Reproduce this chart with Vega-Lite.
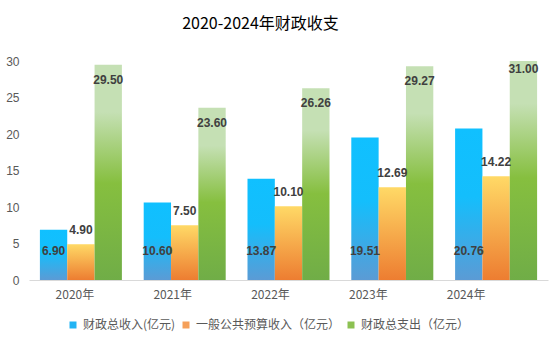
{
  "$schema": "https://vega.github.io/schema/vega-lite/v6.json",
  "width": 519,
  "height": 219,
  "autosize": {"type": "none"},
  "padding": {"left": 29, "top": 61, "right": 8, "bottom": 62},
  "background": "white",
  "config": {"view": {"stroke": null}},
  "title": {"text": "2020-2024年财政收支", "font": "Noto Sans CJK SC", "fontSize": 16, "fontWeight": "normal", "color": "#000000", "anchor": "middle", "dx": -28, "offset": 23},
  "data": {"values": [
    {"year": "2020年", "series": "财政总收入(亿元)", "value": 6.90},
    {"year": "2020年", "series": "一般公共预算收入（亿元）", "value": 4.90},
    {"year": "2020年", "series": "财政总支出（亿元）", "value": 29.50},
    {"year": "2021年", "series": "财政总收入(亿元)", "value": 10.60},
    {"year": "2021年", "series": "一般公共预算收入（亿元）", "value": 7.50},
    {"year": "2021年", "series": "财政总支出（亿元）", "value": 23.60},
    {"year": "2022年", "series": "财政总收入(亿元)", "value": 13.87},
    {"year": "2022年", "series": "一般公共预算收入（亿元）", "value": 10.10},
    {"year": "2022年", "series": "财政总支出（亿元）", "value": 26.26},
    {"year": "2023年", "series": "财政总收入(亿元)", "value": 19.51},
    {"year": "2023年", "series": "一般公共预算收入（亿元）", "value": 12.69},
    {"year": "2023年", "series": "财政总支出（亿元）", "value": 29.27},
    {"year": "2024年", "series": "财政总收入(亿元)", "value": 20.76},
    {"year": "2024年", "series": "一般公共预算收入（亿元）", "value": 14.22},
    {"year": "2024年", "series": "财政总支出（亿元）", "value": 31.00}
  ]},
  "encoding": {
    "x": {"field": "year", "type": "nominal", "sort": null,
      "scale": {"paddingInner": 0.21, "paddingOuter": 0.105},
      "axis": {"title": null, "labelAngle": 0, "ticks": false, "domainColor": "#D9D9D9", "labelColor": "#595959", "labelFont": "Noto Sans CJK SC", "labelFontSize": 12, "labelPadding": 9,
        "labelOffset": {"expr": "-6-24*datum.index"}}},
    "xOffset": {"field": "series", "type": "nominal", "sort": null,
      "scale": {"domain": ["财政总收入(亿元)", "一般公共预算收入（亿元）", "财政总支出（亿元）"], "paddingInner": 0, "paddingOuter": 0}}
  },
  "layer": [
    {
      "mark": {"type": "bar"},
      "encoding": {
        "y": {"datum": 0, "type": "quantitative",
          "scale": {"domain": [0, 30], "nice": false},
          "axis": {"title": null, "domain": false, "ticks": false, "values": [0, 5, 10, 15, 20, 25, 30], "gridColor": "#D9D9D9", "labelColor": "#595959", "labelFont": "Liberation Sans", "labelFontSize": 12, "labelPadding": 10}},
        "color": {"field": "series", "type": "nominal",
          "scale": {"domain": ["财政总收入(亿元)", "一般公共预算收入（亿元）", "财政总支出（亿元）"], "range": ["#22B4F4", "#F5A05A", "#8CC152"]},
          "legend": {"title": null, "orient": "none", "legendX": 38, "legendY": 258, "direction": "horizontal", "symbolType": "square", "symbolSize": 49, "symbolStrokeWidth": 0, "labelFont": "Noto Sans CJK SC", "labelFontSize": 12, "labelColor": "#595959", "labelOffset": 4, "columnPadding": 4, "labelLimit": 300}}
      }
    },
    {
      "transform": [{"filter": "datum.series == '财政总收入(亿元)'"}],
      "mark": {"type": "bar", "clip": true, "color": {"gradient": "linear", "x1": 0, "y1": 1, "x2": 0, "y2": 0, "stops": [{"offset": 0, "color": "#5B9BD5"}, {"offset": 0.55, "color": "#14BEFC"}, {"offset": 1, "color": "#10C0FF"}]}},
      "encoding": {"y": {"field": "value", "type": "quantitative", "axis": {"title": null, "domain": false, "ticks": false, "values": [0, 5, 10, 15, 20, 25, 30], "gridColor": "#D9D9D9", "labelColor": "#595959", "labelFont": "Liberation Sans", "labelFontSize": 12, "labelPadding": 10}}}
    },
    {
      "transform": [{"filter": "datum.series == '一般公共预算收入（亿元）'"}],
      "mark": {"type": "bar", "clip": true, "color": {"gradient": "linear", "x1": 0, "y1": 1, "x2": 0, "y2": 0, "stops": [{"offset": 0, "color": "#ED7D31"}, {"offset": 1, "color": "#FFD966"}]}},
      "encoding": {"y": {"field": "value", "type": "quantitative", "axis": {"title": null, "domain": false, "ticks": false, "values": [0, 5, 10, 15, 20, 25, 30], "gridColor": "#D9D9D9", "labelColor": "#595959", "labelFont": "Liberation Sans", "labelFontSize": 12, "labelPadding": 10}}}
    },
    {
      "transform": [{"filter": "datum.series == '财政总支出（亿元）'"}],
      "mark": {"type": "bar", "clip": true, "color": {"gradient": "linear", "x1": 0, "y1": 1, "x2": 0, "y2": 0, "stops": [{"offset": 0, "color": "#70AD47"}, {"offset": 0.45, "color": "#86BF3F"}, {"offset": 0.78, "color": "#C5E0B4"}, {"offset": 1, "color": "#C5E0B4"}]}},
      "encoding": {"y": {"field": "value", "type": "quantitative", "axis": {"title": null, "domain": false, "ticks": false, "values": [0, 5, 10, 15, 20, 25, 30], "gridColor": "#D9D9D9", "labelColor": "#595959", "labelFont": "Liberation Sans", "labelFontSize": 12, "labelPadding": 10}}}
    },
    {
      "transform": [{"filter": "datum.series == '财政总收入(亿元)'"}],
      "mark": {"type": "text", "baseline": "middle", "align": "center", "dy": -29, "font": "Liberation Sans", "fontSize": 12, "fontWeight": "bold", "color": "#404040"},
      "encoding": {
        "y": {"datum": 0, "type": "quantitative", "axis": {"title": null, "domain": false, "ticks": false, "values": [0, 5, 10, 15, 20, 25, 30], "gridColor": "#D9D9D9", "labelColor": "#595959", "labelFont": "Liberation Sans", "labelFontSize": 12, "labelPadding": 10}},
        "text": {"field": "value", "type": "quantitative", "format": ".2f"}
      }
    },
    {
      "transform": [{"filter": "datum.series == '一般公共预算收入（亿元）'"}],
      "mark": {"type": "text", "baseline": "middle", "align": "center", "dy": -14, "font": "Liberation Sans", "fontSize": 12, "fontWeight": "bold", "color": "#404040"},
      "encoding": {
        "y": {"field": "value", "type": "quantitative", "axis": {"title": null, "domain": false, "ticks": false, "values": [0, 5, 10, 15, 20, 25, 30], "gridColor": "#D9D9D9", "labelColor": "#595959", "labelFont": "Liberation Sans", "labelFontSize": 12, "labelPadding": 10}},
        "text": {"field": "value", "type": "quantitative", "format": ".2f"}
      }
    },
    {
      "transform": [{"filter": "datum.series == '财政总支出（亿元）'"}],
      "mark": {"type": "text", "baseline": "middle", "align": "center", "dy": 15, "font": "Liberation Sans", "fontSize": 12, "fontWeight": "bold", "color": "#404040"},
      "encoding": {
        "y": {"field": "value", "type": "quantitative", "axis": {"title": null, "domain": false, "ticks": false, "values": [0, 5, 10, 15, 20, 25, 30], "gridColor": "#D9D9D9", "labelColor": "#595959", "labelFont": "Liberation Sans", "labelFontSize": 12, "labelPadding": 10}},
        "text": {"field": "value", "type": "quantitative", "format": ".2f"}
      }
    }
  ]
}
